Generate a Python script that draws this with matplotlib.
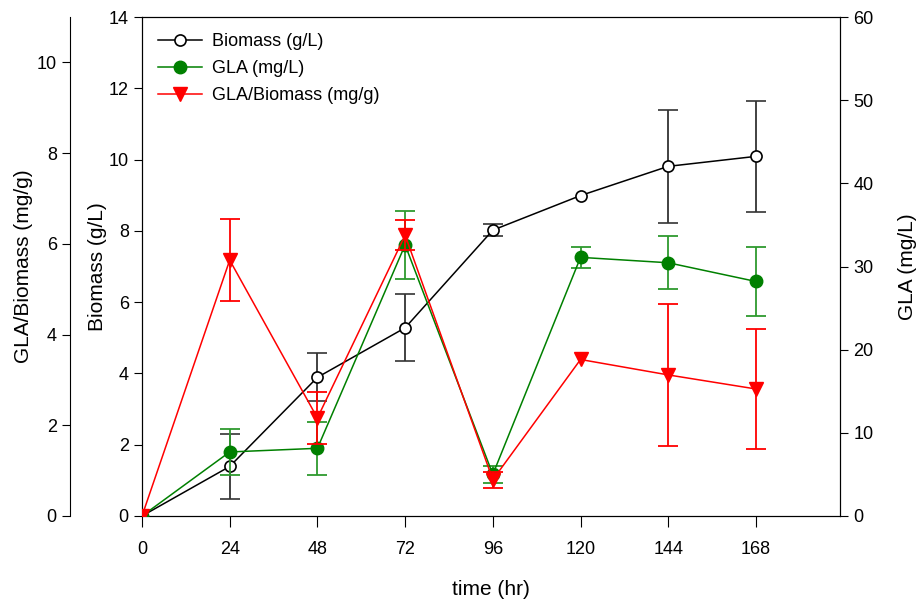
import matplotlib.pyplot as plt
import numpy as np

plt.rcParams['font.family'] = ['Liberation Sans', 'DejaVu Sans']

# time points (hr)
t = [0, 24, 48, 72, 96, 120, 144, 168]

# Biomass (g/L)
biomass = [0, 1.39, 3.89, 5.28, 8.02, 8.99, 9.81, 10.09]
biomass_err = [np.nan, 0.90, 0.67, 0.94, 0.16, np.nan, 1.59, 1.55]

# GLA (mg/L)
gla = [0, 7.7, 8.14, 32.6, 5.0, 31.1, 30.45, 28.2]
gla_err = [np.nan, 2.77, 3.2, 4.1, 1.0, 1.3, 3.2, 4.15]

# GLA/Biomass (mg/g)
ratio = [0, 5.64, 2.16, 6.19, 0.8, 3.45, 3.11, 2.8]
ratio_err = [np.nan, 0.9, 0.57, 0.33, 0.18, np.nan, 1.57, 1.33]

xticks = [0, 24, 48, 72, 96, 120, 144, 168]

fig = plt.figure(figsize=(9.2, 6.03), dpi=100)
ax = fig.add_axes([142/920, 1-516/603, (840-142)/920, (516-17)/603])
ax2 = ax.twinx()
ax3 = ax.twinx()

fs = 13

# biomass on inner left axis
ax.errorbar(t, biomass, yerr=biomass_err, color='black', ecolor='#333333',
            elinewidth=1.3, capsize=7, capthick=1.3, lw=1.1,
            marker='o', ms=8, mfc='white', mec='black', mew=1.2,
            label='Biomass (g/L)', zorder=3)
ax.set_xlim(0, 191)
ax.set_ylim(0, 14)
ax.set_yticks(np.arange(0, 15, 2))
ax.set_xticks(xticks)
ax.set_ylabel('Biomass (g/L)', fontsize=fs+2, labelpad=1)
ax.set_xlabel('time (hr)', fontsize=fs+2, labelpad=16)
ax.tick_params(direction='out', length=6, labelsize=fs)
ax.tick_params(axis='x', length=8, pad=10, labelsize=fs)

# GLA on right axis
ax2.errorbar(t, gla, yerr=gla_err, color='green', ecolor='#2e9a2e',
             elinewidth=1.3, capsize=7, capthick=1.3, lw=1.1,
             marker='o', ms=9, mfc='green', mec='green',
             label='GLA (mg/L)', zorder=3)
ax2.set_ylim(0, 60)
ax2.set_yticks(np.arange(0, 61, 10))
ax2.set_ylabel('GLA (mg/L)', fontsize=fs+2, labelpad=18)
ax2.tick_params(direction='out', length=6, labelsize=fs)

# GLA/Biomass on outer left axis
ax3.errorbar(t, ratio, yerr=ratio_err, color='red', ecolor='red',
             elinewidth=1.3, capsize=7, capthick=1.3, lw=1.1,
             marker='v', ms=10, mfc='red', mec='red',
             label='GLA/Biomass (mg/g)', zorder=3)
ax3.set_ylim(0, 11)
ax3.set_yticks(np.arange(0, 11, 2))
ax3.yaxis.set_ticks_position('left')
ax3.yaxis.set_label_position('left')
ax3.spines['left'].set_position(('outward', 51.8))
ax3.spines['left'].set_visible(True)
for s in ['right', 'top', 'bottom']:
    ax3.spines[s].set_visible(False)
ax3.set_ylabel('GLA/Biomass (mg/g)', fontsize=fs+2, labelpad=3)
ax3.tick_params(direction='out', length=6, labelsize=fs)

h = []
lab = []
for a in (ax, ax2, ax3):
    hh, ll = a.get_legend_handles_labels()
    h += hh
    lab += ll
h = [x.lines[0] if hasattr(x, 'lines') else x for x in h]
ax3.legend(h, lab, loc='upper left', bbox_to_anchor=(0.0, 1.0), frameon=False,
           fontsize=fs, handlelength=2.4, handletextpad=0.6,
           borderaxespad=0.5, labelspacing=0.55)

plt.savefig('out.png', dpi=100)
